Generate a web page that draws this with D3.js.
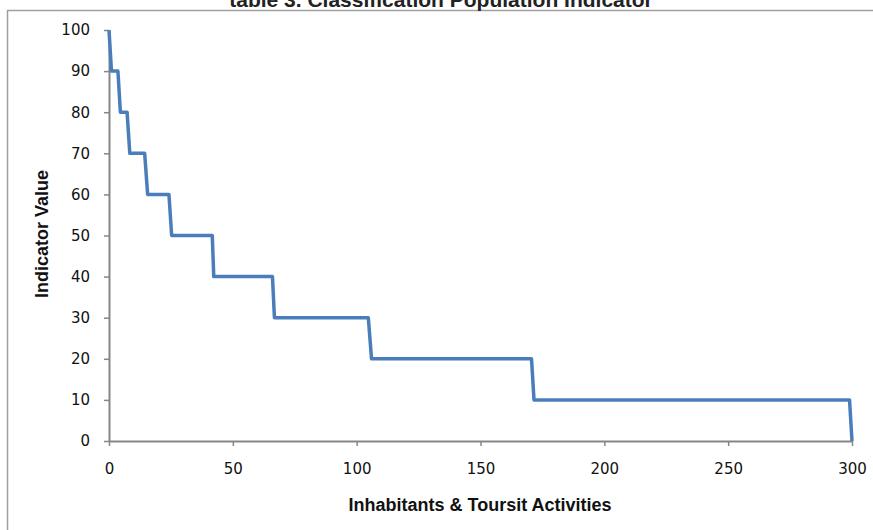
<!DOCTYPE html>
<html>
<head>
<meta charset="utf-8">
<script src="https://cdn.jsdelivr.net/npm/d3@7"></script>
<style>
  body { margin: 0; background: #fff; }
</style>
</head>
<body>
<div id="chart"></div>
<script>
// step points
var xVals = [0, 1, 3.6, 4.6, 7.3, 8.4, 14.4, 15.6, 24.2, 25.3, 41.7, 42.3, 66, 66.8, 104.7, 106, 170.6, 171.6, 299, 300];
var yVals = [100, 90, 90, 80, 80, 70, 70, 60, 60, 50, 50, 40, 40, 30, 30, 20, 20, 10, 10, 0];
var xTicks = [0, 50, 100, 150, 200, 250, 300];
var yTicks = [0, 10, 20, 30, 40, 50, 60, 70, 80, 90, 100];

var w = 873, h = 530;
var svg = d3.select("#chart").append("svg")
  .attr("width", w)
  .attr("height", h);

// chart area border (only left and top visible)
svg.append("rect")
  .attr("x", 7.5).attr("y", 10.5)
  .attr("width", 900).attr("height", 600)
  .attr("fill", "none")
  .attr("stroke", "#a0a0a0")
  .attr("stroke-width", 1.5);

// title, cut at the top like the source
svg.append("text")
  .text("table 3. Classification Population Indicator")
  .attr("x", 441).attr("y", 7)
  .attr("text-anchor", "middle")
  .attr("font-family", "Liberation Sans, Arial, sans-serif")
  .attr("font-weight", "bold")
  .attr("font-size", "21px")
  .attr("fill", "#222");

var x = d3.scaleLinear().domain([0, 300]).range([109, 852]);
var y = d3.scaleLinear().domain([0, 100]).range([441, 30]);

var axisColor = "#868686";

var xAxis = svg.append("g")
  .attr("transform", "translate(0," + y(0) + ")")
  .call(d3.axisBottom(x).tickValues(xTicks).tickSize(5).tickPadding(17).tickSizeOuter(0));
var yAxis = svg.append("g")
  .attr("transform", "translate(" + x(0) + ",0)")
  .call(d3.axisLeft(y).tickValues(yTicks).tickSize(5).tickPadding(14).tickSizeOuter(0));

[xAxis, yAxis].forEach(function(g) {
  g.select(".domain").attr("stroke", axisColor).attr("stroke-width", 2);
  g.selectAll(".tick line").attr("stroke", axisColor).attr("stroke-width", 1.5);
  g.selectAll(".tick text")
    .attr("font-family", "DejaVu Sans, sans-serif")
    .attr("font-size", "15px")
    .attr("fill", "#111");
});

var pts = xVals.map(function(d, i) { return [d, yVals[i]]; });
svg.append("path")
  .datum(pts)
  .attr("fill", "none")
  .attr("stroke", "#4a7ebb")
  .attr("stroke-width", 3.5)
  .attr("stroke-linejoin", "round")
  .attr("d", d3.line()
    .x(function(d) { return x(d[0]); })
    .y(function(d) { return y(d[1]); }));

svg.append("text")
  .text("Inhabitants & Toursit Activities")
  .attr("x", 480).attr("y", 511)
  .attr("text-anchor", "middle")
  .attr("font-family", "Liberation Sans, Arial, sans-serif")
  .attr("font-weight", "bold")
  .attr("font-size", "18px")
  .attr("fill", "#111");

svg.append("text")
  .text("Indicator Value")
  .attr("transform", "translate(48,234) rotate(-90)")
  .attr("text-anchor", "middle")
  .attr("font-family", "Liberation Sans, Arial, sans-serif")
  .attr("font-weight", "bold")
  .attr("font-size", "18px")
  .attr("fill", "#111");
</script>
</body>
</html>
